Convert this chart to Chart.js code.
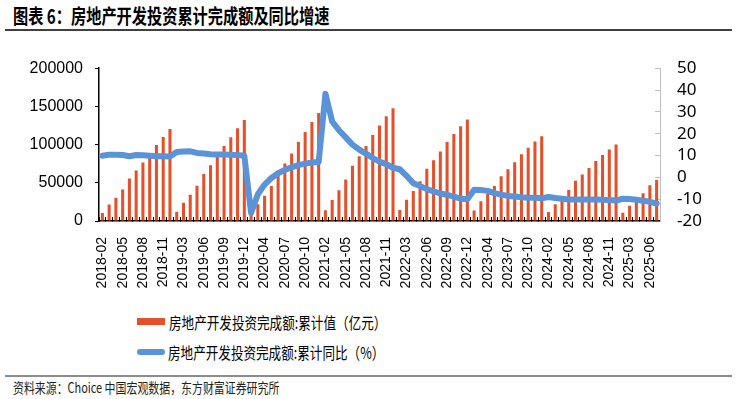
<!DOCTYPE html>
<html>
<head>
<meta charset="utf-8">
<script src="https://cdn.jsdelivr.net/npm/chart.js@4.4.1/dist/chart.umd.min.js"></script>
<style>
  body { margin: 0; width: 737px; height: 399px; background: #fff; position: relative; overflow: hidden;
         font-family: "Noto Sans CJK SC", sans-serif; color: #000; }
  .title { position: absolute; left: 13px; top: 5px; font-size: 20px; line-height: 22px; font-weight: bold;
           white-space: nowrap; transform: scaleX(0.76); transform-origin: left top; }
  .rule { position: absolute; left: 5px; width: 727px; height: 2px; }
  #topRule { top: 29px; background: #404040; }
  #srcRule { top: 375px; background: #8c8c8c; }
  #wrap { position: absolute; left: 0; top: 36px; width: 737px; height: 264px; }
  .lg-mark { position: absolute; left: 137px; width: 28px; }
  .lg-text { position: absolute; font-size: 16px; line-height: 20px; white-space: nowrap;
             transform: scaleX(0.786); transform-origin: left center; }
  .source { position: absolute; left: 13px; top: 378px; font-size: 14px; line-height: 18px; color: #222;
            white-space: nowrap; transform: scaleX(0.78); transform-origin: left top; }
</style>
</head>
<body>
<div class="title">图表 6：房地产开发投资累计完成额及同比增速</div>
<div class="rule" id="topRule"></div>
<div id="wrap"><canvas id="chartInvest" width="737" height="264"></canvas></div>

<div class="lg-mark" id="lgBar" style="top:318px;height:7px;"></div>
<div class="lg-text" style="left:169px;top:312px;">房地产开发投资完成额:累计值（亿元）</div>
<div class="lg-mark" id="lgLine" style="top:349px;height:6px;border-radius:3px;"></div>
<div class="lg-text" style="left:168px;top:342px;">房地产开发投资完成额:累计同比（%）</div>

<div class="rule" id="srcRule"></div>
<div class="source">资料来源：Choice 中国宏观数据，东方财富证券研究所</div>

<script>
// months (Jan is merged into Feb in the source data)
const categories = [
    '2018-02','2018-03','2018-04','2018-05','2018-06','2018-07','2018-08','2018-09','2018-10','2018-11','2018-12',
    '2019-02','2019-03','2019-04','2019-05','2019-06','2019-07','2019-08','2019-09','2019-10','2019-11','2019-12',
    '2020-02','2020-03','2020-04','2020-05','2020-06','2020-07','2020-08','2020-09','2020-10','2020-11','2020-12',
    '2021-02','2021-03','2021-04','2021-05','2021-06','2021-07','2021-08','2021-09','2021-10','2021-11','2021-12',
    '2022-02','2022-03','2022-04','2022-05','2022-06','2022-07','2022-08','2022-09','2022-10','2022-11','2022-12',
    '2023-02','2023-03','2023-04','2023-05','2023-06','2023-07','2023-08','2023-09','2023-10','2023-11','2023-12',
    '2024-02','2024-03','2024-04','2024-05','2024-06','2024-07','2024-08','2024-09','2024-10','2024-11','2024-12',
    '2025-02','2025-03','2025-04','2025-05','2025-06','2025-07',
];

// cumulative investment, 亿元
const investValues = [
    10357, 21652, 30592, 41343, 55531, 66000, 76519, 88948, 99325, 110083, 120264,
    12090, 23803, 34217, 46075, 61609, 72843, 84589, 98008, 109603, 121265, 132194,
    10115, 21963, 33103, 45920, 62780, 75325, 88454, 103484, 116556, 129492, 141443,
    13986, 27576, 40240, 54318, 72179, 84895, 98060, 112568, 124934, 137086, 147602,
    14499, 27765, 39154, 52134, 68314, 79462, 90809, 103559, 113945, 123863, 132895,
    13669, 25974, 35514, 45701, 58550, 67717, 76900, 87269, 95922, 104045, 110913,
    11842, 22082, 30928, 40632, 52529, 60877, 69284, 78680, 86309, 93686, 100280,
    10720, 19904, 27730, 36234, 46658, 53580,
];

// cumulative YoY, %
const yoyValues = [
    9.9, 10.4, 10.3, 10.2, 9.7, 10.2, 10.1, 9.9, 9.7, 9.7, 9.5,
    11.6, 11.8, 11.9, 11.2, 10.9, 10.6, 10.5, 10.5, 10.3, 10.2, 9.9,
    -16.3, -7.7, -3.3, -0.3, 1.9, 3.4, 4.6, 5.6, 6.3, 6.8, 7.0,
    38.3, 25.6, 21.6, 18.3, 15.0, 12.7, 10.9, 8.8, 7.2, 6.0, 4.4,
    3.7, 0.7, -2.7, -4.0, -5.4, -6.4, -7.4, -8.0, -8.8, -9.8, -10.0,
    -5.7, -5.8, -6.2, -7.2, -7.9, -8.5, -8.8, -9.1, -9.3, -9.4, -9.6,
    -9.0, -9.5, -9.8, -10.1, -10.1, -10.2, -10.2, -10.1, -10.3, -10.4, -10.6,
    -9.8, -9.9, -10.3, -10.7, -11.2, -12.0,
];

const leftTicks = [0, 50000, 100000, 150000, 200000];
const rightTicks = [-20, -10, 0, 10, 20, 30, 40, 50];

const BAR_RED = '#E4502A';
const LINE_BLUE = '#5A93D7';

document.getElementById('lgBar').style.background = BAR_RED;
document.getElementById('lgLine').style.background = LINE_BLUE;

const ctx = document.getElementById('chartInvest').getContext('2d');
new Chart(ctx, {
    type: 'bar',
    data: {
        labels: categories,
        datasets: [{
            type: 'line',
            label: '房地产开发投资完成额:累计同比（%）',
            data: yoyValues,
            yAxisID: 'y1',
            borderColor: LINE_BLUE,
            borderWidth: 6,
            pointRadius: 0,
            tension: 0,
            borderJoinStyle: 'round',
            borderCapStyle: 'round',
            order: 0,
        }, {
            type: 'bar',
            label: '房地产开发投资完成额:累计值（亿元）',
            data: investValues,
            yAxisID: 'y',
            backgroundColor: BAR_RED,
            barPercentage: 0.45,
            categoryPercentage: 1,
            order: 1,
        }],
    },
    options: {
        responsive: false,
        animation: false,
        layout: { padding: { top: 16, left: 0, right: 0, bottom: 0 } },
        plugins: { legend: { display: false }, tooltip: { enabled: false } },
        scales: {
            x: {
                offset: true,
                grid: { display: true, drawOnChartArea: false, drawTicks: true, tickLength: -4, color: '#000', offset: true },
                border: { display: true, color: '#000', width: 1.5 },
                ticks: {
                    autoSkip: false, maxRotation: 90, minRotation: 90, padding: 20, color: '#000',
                    font: { family: 'Liberation Sans', size: 14 },
                    callback: (v, i) => (i % 3 === 0 ? categories[i] : ''),
                },
                afterFit: (s) => { s.height = 79; },
            },
            y: {
                position: 'left',
                min: leftTicks[0],
                max: leftTicks[leftTicks.length - 1],
                grid: { drawOnChartArea: false, tickLength: 4, color: '#000' },
                border: { color: '#000', width: 1.5 },
                ticks: {
                    autoSkip: false,
                    stepSize: leftTicks[1] - leftTicks[0], padding: 12, color: '#000',
                    font: { family: 'Liberation Sans', size: 16 },
                    callback: (v) => String(v),
                },
                afterFit: (s) => { s.width = 99; },
            },
            y1: {
                position: 'right',
                min: rightTicks[0],
                max: rightTicks[rightTicks.length - 1],
                grid: { drawOnChartArea: false, tickLength: -5, color: '#BFBFBF' },
                border: { color: '#BFBFBF', width: 1 },
                ticks: {
                    autoSkip: false,
                    stepSize: rightTicks[1] - rightTicks[0], padding: 22, color: '#000',
                    font: { family: 'Noto Sans', size: 17 },
                    callback: (v) => String(v),
                },
                afterFit: (s) => { s.width = 77; },
            },
        },
    },
});
</script>
</body>
</html>
